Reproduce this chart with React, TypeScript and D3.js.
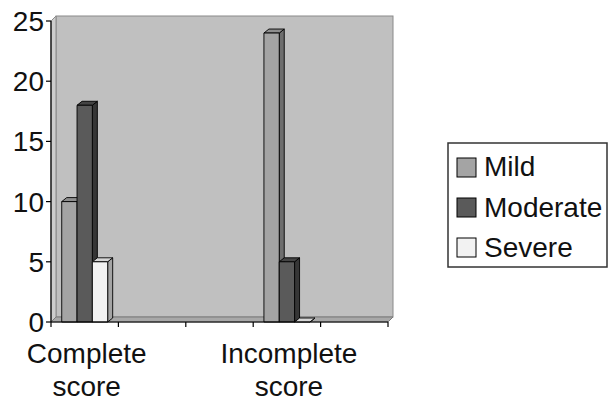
import React from "react";
import * as d3 from "d3";

const categories = ["Complete score", "blank2", "blank3", "Incomplete score", "blank5"];
const categoryLabels = [["Complete", "score"], [], [], ["Incomplete", "score"], []];
const seriesNames = ["Mild", "Moderate", "Severe"];
const mildValues = [10, 0, 0, 24, 0];
const moderateValues = [18, 0, 0, 5, 0];
const severeValues = [5, 0, 0, 0, 0];
const hasData = [true, false, false, true, false];
const yTicks = [0, 5, 10, 15, 20, 25];

const seriesValues = [mildValues, moderateValues, severeValues];
const frontColors = ["#a4a4a4", "#5a5a5a", "#f2f2f2"];
const topColors = ["#8e8e8e", "#444444", "#d6d6d6"];
const sideColors = ["#6e6e6e", "#363636", "#a4a4a4"];

const W = 609;
const H = 403;
const left = 51;
const right = 388;
const bottom = 322;
const top = 21;
const wallDx = 5;
const wallDy = 5;
const barDx = 5;
const barDy = 4;
const font = "'Liberation Sans', Arial, sans-serif";

export default function App() {
  const y = d3.scaleLinear().domain([0, 25]).range([bottom, top]);
  const x0 = d3.scaleBand<string>().domain(categories).range([left, right]).padding(0);
  const x1 = d3
    .scaleBand<string>()
    .domain(seriesNames)
    .range([0, x0.bandwidth()])
    .paddingInner(0)
    .paddingOuter(0.7);

  const pts = (arr: [number, number][]) => arr.map((p) => p.join(",")).join(" ");
  const tickXs = [...categories.map((c) => x0(c) as number), right];

  const bars: React.ReactNode[] = [];
  categories.forEach((c, ci) => {
    if (!hasData[ci]) return;
    seriesNames.forEach((s, si) => {
      const v = seriesValues[si][ci];
      const bx = (x0(c) as number) + (x1(s) as number);
      const bw = x1.bandwidth();
      const by = y(v);
      const h = bottom - by;
      bars.push(
        <g key={c + s} stroke="#000" strokeWidth={0.9} strokeLinejoin="round">
          <polygon
            points={pts([
              [bx + bw, by],
              [bx + bw + barDx, by - barDy],
              [bx + bw + barDx, bottom - barDy],
              [bx + bw, bottom],
            ])}
            fill={sideColors[si]}
          />
          <polygon
            points={pts([
              [bx, by],
              [bx + barDx, by - barDy],
              [bx + bw + barDx, by - barDy],
              [bx + bw, by],
            ])}
            fill={topColors[si]}
          />
          <rect x={bx} y={by} width={bw} height={h} fill={frontColors[si]} />
        </g>
      );
    });
  });

  return (
    <svg
      width={W}
      height={H}
      style={{ position: "absolute", left: 0, top: 0, background: "#fff" }}
      fontFamily={font}
    >
      {/* back wall */}
      <rect
        x={left + wallDx}
        y={top - wallDy}
        width={right - left}
        height={bottom - top}
        fill="#c0c0c0"
        stroke="#8a8a8a"
        strokeWidth={1}
      />
      {/* side wall */}
      <polygon
        points={pts([
          [left, bottom],
          [left, top],
          [left + wallDx, top - wallDy],
          [left + wallDx, bottom - wallDy],
        ])}
        fill="#cdcdcd"
        stroke="#8a8a8a"
        strokeWidth={1}
      />
      {/* floor */}
      <polygon
        points={pts([
          [left, bottom],
          [right, bottom],
          [right + wallDx, bottom - wallDy],
          [left + wallDx, bottom - wallDy],
        ])}
        fill="#a8a8a8"
        stroke="#7a7a7a"
        strokeWidth={1}
      />
      {bars}
      {/* axes */}
      <line x1={left} x2={left} y1={bottom} y2={top} stroke="#000" strokeWidth={1.2} />
      <line x1={left} x2={right} y1={bottom} y2={bottom} stroke="#000" strokeWidth={1.2} />
      {yTicks.map((t) => (
        <g key={t}>
          <line x1={left - 5} x2={left} y1={y(t)} y2={y(t)} stroke="#000" strokeWidth={1.2} />
          <text
            x={left - 7}
            y={y(t)}
            dy="0.36em"
            textAnchor="end"
            fontSize={28}
            fill="#111"
          >
            {t}
          </text>
        </g>
      ))}
      {tickXs.map((tx, i) => (
        <line key={i} x1={tx} x2={tx} y1={bottom} y2={bottom + 5} stroke="#000" strokeWidth={1.2} />
      ))}
      {categories.map((c, ci) => {
        const cx = (x0(c) as number) + x0.bandwidth() / 2 + 2;
        return categoryLabels[ci].map((line, li) => (
          <text
            key={c + li}
            x={cx}
            y={363 + li * 33}
            textAnchor="middle"
            fontSize={28}
            fill="#111"
          >
            {line}
          </text>
        ));
      })}
      {/* legend */}
      <rect x={448} y={143} width={159} height={124} fill="#fff" stroke="#333" strokeWidth={1.5} />
      {seriesNames.map((s, si) => (
        <g key={s}>
          <rect
            x={457}
            y={158 + si * 40}
            width={19}
            height={19}
            fill={frontColors[si]}
            stroke="#000"
            strokeWidth={1}
          />
          <text x={484} y={176 + si * 40.5} fontSize={28} fill="#111">
            {s}
          </text>
        </g>
      ))}
    </svg>
  );
}
